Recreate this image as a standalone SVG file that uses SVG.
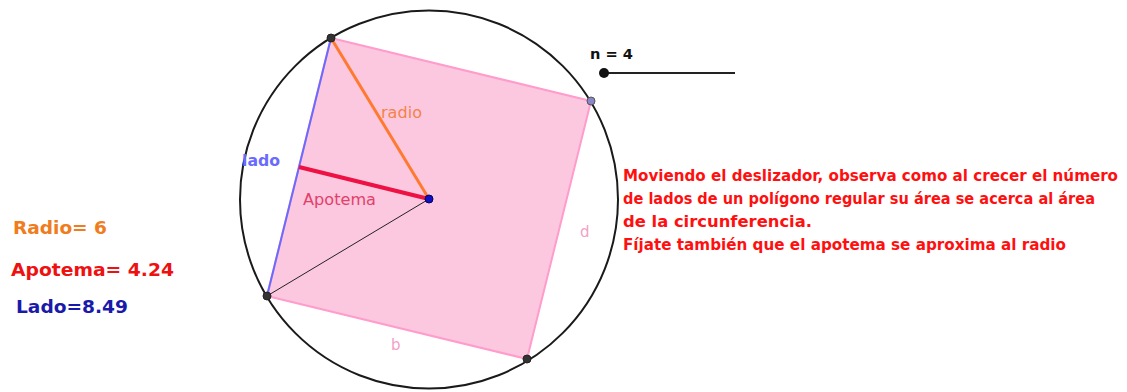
<svg xmlns="http://www.w3.org/2000/svg" width="1127" height="392" viewBox="0 0 1127 392">
<style>
.lbl{font-family:"DejaVu Sans","Liberation Sans",Arial,sans-serif;font-weight:bold;}
.msg{font-family:"DejaVu Sans","Liberation Sans",Arial,sans-serif;font-weight:bold;font-size:15px;fill:#ff1010;}
.seg{font-family:"DejaVu Sans","Liberation Sans",Arial,sans-serif;font-size:15px;}
.pt{stroke:#222;stroke-width:1;fill:#333;}
</style>
<rect width="1127" height="392" fill="#ffffff"/>
<g id="circle">
<circle cx="429" cy="199.5" r="189" fill="none" stroke="#1a1a1a" stroke-width="2"/>
</g>
<g id="polygon">
<polygon points="331,38 591,101 527,359 267,296" fill="#fcc8e0" stroke="#ff9ccc" stroke-width="2"/>
</g>
<g id="connectors">
<line x1="267" y1="296" x2="331" y2="38" stroke="#6a6aff" stroke-width="2"/>
<line x1="331" y1="38" x2="429" y2="199" stroke="#ff7a30" stroke-width="3"/>
<line x1="429" y1="199" x2="267" y2="296" stroke="#222" stroke-width="1"/>
<line x1="299" y1="167" x2="429" y2="199" stroke="#ee1144" stroke-width="4"/>
<line x1="604" y1="73" x2="735" y2="73" stroke="#222" stroke-width="2"/>
</g>
<g id="points">
<circle class="pt" cx="331" cy="38" r="4"/>
<circle cx="591" cy="101" r="4" fill="#8a86c8" stroke="#555" stroke-width="1"/>
<circle class="pt" cx="527" cy="359" r="4"/>
<circle class="pt" cx="267" cy="296" r="4"/>
<circle cx="429" cy="199" r="4" fill="#1010c0" stroke="#000060" stroke-width="1"/>
<circle cx="604" cy="73" r="5" fill="#111"/>
</g>
<g id="segment-labels">
<text class="seg" x="381" y="118" fill="#f4824a" textLength="41" lengthAdjust="spacingAndGlyphs">radio</text>
<text class="seg" x="242" y="166" fill="#6a6aff" font-weight="bold" textLength="38" lengthAdjust="spacingAndGlyphs">lado</text>
<text class="seg" x="303" y="205" fill="#e2406a" textLength="73" lengthAdjust="spacingAndGlyphs">Apotema</text>
<text class="seg" x="580" y="237" fill="#f4a0c8">d</text>
<text class="seg" x="391" y="350" fill="#f4a0c8">b</text>
</g>
<g id="slider">
<text class="lbl" x="590" y="59" font-size="14" fill="#111" textLength="43" lengthAdjust="spacingAndGlyphs">n = 4</text>
</g>
<g id="values">
<text class="lbl" x="13" y="234" font-size="17" fill="#f07c20" textLength="94" lengthAdjust="spacingAndGlyphs">Radio= 6</text>
<text class="lbl" x="11" y="276" font-size="17" fill="#ee1111" textLength="163" lengthAdjust="spacingAndGlyphs">Apotema= 4.24</text>
<text class="lbl" x="16" y="313" font-size="17" fill="#1a1aaa" textLength="112" lengthAdjust="spacingAndGlyphs">Lado=8.49</text>
</g>
<g id="message">
<text class="msg" x="623" y="181" textLength="495" lengthAdjust="spacingAndGlyphs">Moviendo el deslizador, observa como al crecer el número</text>
<text class="msg" x="623" y="204" textLength="472" lengthAdjust="spacingAndGlyphs">de lados de un polígono regular su área se acerca al área</text>
<text class="msg" x="623" y="227" textLength="189" lengthAdjust="spacingAndGlyphs">de la circunferencia.</text>
<text class="msg" x="623" y="250" textLength="443" lengthAdjust="spacingAndGlyphs">Fíjate también que el apotema se aproxima al radio</text>
</g>
</svg>
